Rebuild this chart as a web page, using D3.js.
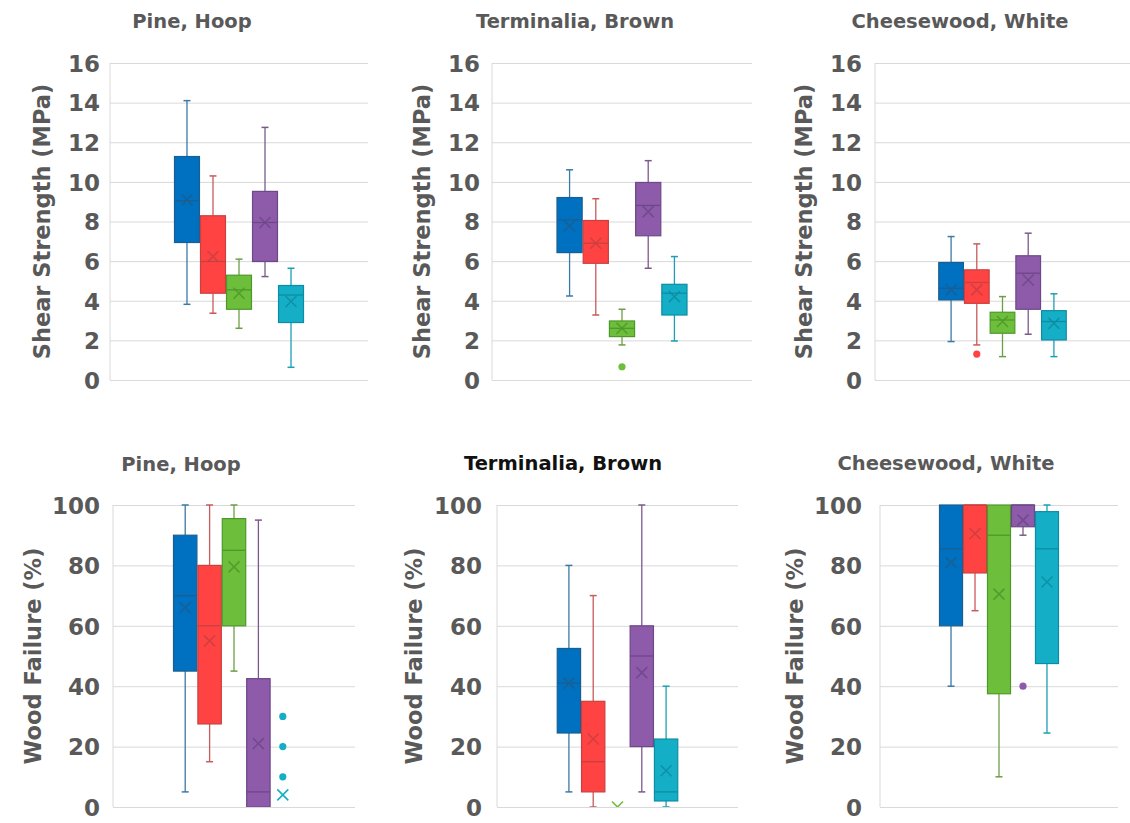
<!DOCTYPE html>
<html>
<head>
<meta charset="utf-8">
<script src="https://cdn.jsdelivr.net/npm/d3@7"></script>
<style>
  html, body { margin: 0; padding: 0; background: #ffffff; }
  svg { display: block; }
</style>
</head>
<body>
<svg id="chart" width="1130" height="823"></svg>
<script>
// ---------------- DATA ----------------
const seriesNames = ["Series 1", "Series 2", "Series 3", "Series 4", "Series 5"];
const woodTitles = ["Pine, Hoop", "Terminalia, Brown", "Cheesewood, White"];
const shearLabel = "Shear Strength (MPa)";
const failureLabel = "Wood Failure (%)";
const shearTicks = [0, 2, 4, 6, 8, 10, 12, 14, 16];
const failureTicks = [0, 20, 40, 60, 80, 100];

// each row: [min, q1, median, q3, max, mean]
const shearPine = [
  [3.82, 6.94, 9.05, 11.28, 14.10, 9.09],
  [3.37, 4.38, 5.98, 8.29, 10.30, 6.23],
  [2.61, 3.57, 4.55, 5.29, 6.10, 4.38],
  [5.22, 5.98, 7.95, 9.52, 12.75, 7.95],
  [0.64, 2.90, 4.29, 4.77, 5.64, 3.96]
];
const shearPineOutliers = [[], [], [], [], []];

const shearTerminalia = [
  [4.24, 6.43, 8.08, 9.21, 10.61, 7.78],
  [3.28, 5.89, 6.90, 8.05, 9.15, 6.90],
  [1.77, 2.19, 2.61, 2.98, 3.57, 2.61],
  [5.64, 7.28, 8.81, 9.97, 11.07, 8.50],
  [1.97, 3.28, 4.38, 4.83, 6.23, 4.21]
];
const shearTerminaliaOutliers = [[], [], [0.67], [], []];

const shearCheesewood = [
  [1.94, 4.04, 4.63, 5.93, 7.24, 4.55],
  [1.77, 3.87, 4.92, 5.56, 6.87, 4.55],
  [1.18, 2.36, 3.03, 3.42, 4.21, 2.95],
  [2.31, 3.57, 5.39, 6.27, 7.41, 5.05],
  [1.18, 2.02, 2.95, 3.50, 4.35, 2.86]
];
const shearCheesewoodOutliers = [[], [1.31], [], [], []];

const failurePine = [
  [5, 45, 70, 90, 100, 66],
  [15, 27.5, 60, 80, 100, 55],
  [45, 60, 85, 95.5, 100, 79.5],
  [0, 0, 5, 42.5, 95, 21],
  [0, 0, 0, 0, 0, 4]
];
const failurePineOutliers = [[], [], [], [], [10, 20, 30]];

const failureTerminalia = [
  [5, 24.5, 41, 52.5, 80, 41],
  [0, 5, 15, 35, 70, 22.5],
  [0, 0, 0, 0, 0, 0],
  [5, 20, 50, 60, 100, 44.5],
  [0, 2, 5, 22.5, 40, 12]
];
const failureTerminaliaOutliers = [[], [], [], [], []];

const failureCheesewood = [
  [40, 60, 85.5, 100, 100, 81],
  [65, 77.5, 100, 100, 100, 90.5],
  [10, 37.5, 90, 100, 100, 70.5],
  [90, 92.8, 100, 100, 100, 95],
  [24.5, 47.5, 85.5, 97.8, 100, 74.5]
];
const failureCheesewoodOutliers = [[], [], [], [40], []];

// ---------------- STYLE / LAYOUT ----------------
const fills   = ["#0070C0", "#FF4343", "#6DBE3B", "#8E5AAA", "#14AFC7"];
const strokes = ["#1A5F90", "#C94040", "#4E982B", "#6D4888", "#0E8CA2"];
const whisk   = ["#3A7AA6", "#C85A5A", "#6C9E45", "#7A5A8C", "#1C9FB5"];

const panels = [
  {x0: 110, x1: 368, y0: 63,  y1: 380, tickX: 100, titleX: 192, titleY: 28,  axX: 50,
   data: shearPine, out: shearPineOutliers, ticks: shearTicks, max: 16, label: shearLabel, title: woodTitles[0], tc: "#595959"},
  {x0: 492, x1: 752, y0: 63,  y1: 380, tickX: 480, titleX: 575, titleY: 28,  axX: 430,
   data: shearTerminalia, out: shearTerminaliaOutliers, ticks: shearTicks, max: 16, label: shearLabel, title: woodTitles[1], tc: "#595959"},
  {x0: 875, x1: 1130, y0: 63, y1: 380, tickX: 862, titleX: 960, titleY: 28,  axX: 812,
   data: shearCheesewood, out: shearCheesewoodOutliers, ticks: shearTicks, max: 16, label: shearLabel, title: woodTitles[2], tc: "#595959"},
  {x0: 113, x1: 355, y0: 505, y1: 807, tickX: 100, titleX: 181, titleY: 471, axX: 41,
   data: failurePine, out: failurePineOutliers, ticks: failureTicks, max: 100, label: failureLabel, title: woodTitles[0], tc: "#595959"},
  {x0: 497, x1: 738, y0: 505, y1: 807, tickX: 482, titleX: 563, titleY: 470, axX: 422,
   data: failureTerminalia, out: failureTerminaliaOutliers, ticks: failureTicks, max: 100, label: failureLabel, title: woodTitles[1], tc: "#111111"},
  {x0: 880, x1: 1118, y0: 505, y1: 807, tickX: 862, titleX: 946, titleY: 470, axX: 803,
   data: failureCheesewood, out: failureCheesewoodOutliers, ticks: failureTicks, max: 100, label: failureLabel, title: woodTitles[2], tc: "#595959"}
];

const FONT = "'DejaVu Sans', 'Open Sans', sans-serif";
const svg = d3.select("#chart");

panels.forEach((p, pi) => {
  const g = svg.append("g");
  const y = d3.scaleLinear().domain([0, p.max]).range([p.y1, p.y0]);
  const cx = (p.x0 + p.x1) / 2, w = p.x1 - p.x0;
  const x = d3.scaleBand().domain(seriesNames)
    .range([cx - w * 0.25, cx + w * 0.25]).paddingInner(0.04);

  // gridlines
  const grid = g.append("g").attr("transform", `translate(${p.x0},0)`)
    .call(d3.axisLeft(y).tickValues(p.ticks).tickSize(-w).tickFormat(""));
  grid.select(".domain").remove();
  grid.selectAll("line").attr("stroke", "#D9D9D9").attr("stroke-width", 1);

  // left plot border
  g.append("line").attr("x1", p.x0).attr("x2", p.x0).attr("y1", p.y0).attr("y2", p.y1)
    .attr("stroke", "#D9D9D9").attr("stroke-width", 1);

  // tick labels
  const ax = g.append("g").attr("transform", `translate(${p.tickX},0)`)
    .call(d3.axisLeft(y).tickValues(p.ticks).tickSize(0).tickPadding(0));
  ax.select(".domain").remove();
  ax.selectAll("text").attr("font-family", FONT).attr("font-weight", 700)
    .attr("font-size", 23).attr("fill", "#595959").attr("dy", "0.36em");

  // axis title
  g.append("text")
    .attr("transform", `translate(${p.axX},${(p.y0 + p.y1) / 2}) rotate(-90)`)
    .attr("text-anchor", "middle").attr("font-family", FONT).attr("font-weight", 700)
    .attr("font-size", 22.5).attr("fill", "#595959").text(p.label);

  // chart title
  g.append("text").attr("x", p.titleX).attr("y", p.titleY).attr("text-anchor", "middle")
    .attr("font-family", FONT).attr("font-weight", 700).attr("font-size", 19.5)
    .attr("fill", p.tc).text(p.title);

  // clip
  const cid = "clip" + pi;
  svg.append("clipPath").attr("id", cid).append("rect")
    .attr("x", p.x0).attr("y", p.y0 - 1).attr("width", w).attr("height", p.y1 - p.y0 + 1);
  const m = g.append("g").attr("clip-path", `url(#${cid})`);

  const rows = p.data.map((r, i) => ({
    name: seriesNames[i], i, min: r[0], q1: r[1], med: r[2], q3: r[3], max: r[4], mean: r[5], out: p.out[i]
  }));

  const bw = x.bandwidth();
  const capW = 7;
  rows.forEach(d => {
    const xc = x(d.name) + bw / 2;
    const s = m.append("g");
    if (d.max > d.q3) {
      s.append("line").attr("x1", xc).attr("x2", xc).attr("y1", y(d.q3)).attr("y2", y(d.max))
        .attr("stroke", whisk[d.i]).attr("stroke-width", 1.3);
      s.append("line").attr("x1", xc - capW / 2).attr("x2", xc + capW / 2).attr("y1", y(d.max)).attr("y2", y(d.max))
        .attr("stroke", whisk[d.i]).attr("stroke-width", 1.5);
    }
    if (d.q1 > d.min) {
      s.append("line").attr("x1", xc).attr("x2", xc).attr("y1", y(d.q1)).attr("y2", y(d.min))
        .attr("stroke", whisk[d.i]).attr("stroke-width", 1.3);
      s.append("line").attr("x1", xc - capW / 2).attr("x2", xc + capW / 2).attr("y1", y(d.min)).attr("y2", y(d.min))
        .attr("stroke", whisk[d.i]).attr("stroke-width", 1.5);
    }
    if (d.q3 > d.q1) {
      s.append("rect").attr("x", x(d.name)).attr("width", bw)
        .attr("y", y(d.q3)).attr("height", y(d.q1) - y(d.q3))
        .attr("fill", fills[d.i]).attr("stroke", strokes[d.i]).attr("stroke-width", 1.2);
      s.append("line").attr("x1", x(d.name)).attr("x2", x(d.name) + bw)
        .attr("y1", y(d.med)).attr("y2", y(d.med))
        .attr("stroke", strokes[d.i]).attr("stroke-width", 1.3);
    }
    const r = 5.5;
    const ym = y(d.mean);
    s.append("path")
      .attr("d", `M${xc - r},${ym - r}L${xc + r},${ym + r}M${xc - r},${ym + r}L${xc + r},${ym - r}`)
      .attr("stroke", d.q3 > d.q1 ? strokes[d.i] : fills[d.i]).attr("stroke-width", 1.6).attr("fill", "none")
      .attr("opacity", d.q3 > d.q1 ? 0.85 : 1);
    s.selectAll("circle.o").data(d.out).enter().append("circle")
      .attr("cx", xc).attr("cy", v => y(v)).attr("r", 3.6).attr("fill", fills[d.i]);
  });
});
</script>
</body>
</html>
